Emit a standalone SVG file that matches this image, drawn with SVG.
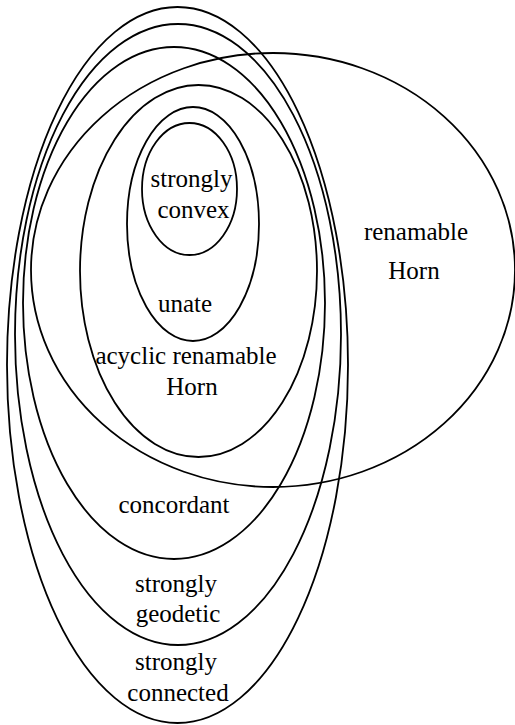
<svg xmlns="http://www.w3.org/2000/svg" width="515" height="725" viewBox="0 0 515 725">
<style>
.set{fill:none;stroke:#000;stroke-width:1.8}
.lbl{font-family:"Liberation Serif","Times New Roman",serif;font-size:25px;fill:#000;text-anchor:middle}
</style>
<rect width="515" height="725" fill="#fff"/>
<g id="connectors"></g>
<g id="strongly-connected">
<ellipse class="set" cx="177.5" cy="365" rx="170.5" ry="358"/>
<text class="lbl" x="176" y="670">strongly</text>
<text class="lbl" x="178" y="701">connected</text>
</g>
<g id="strongly-geodetic">
<ellipse class="set" cx="178" cy="334.5" rx="163" ry="310.5"/>
<text class="lbl" x="176" y="592">strongly</text>
<text class="lbl" x="178" y="622">geodetic</text>
</g>
<g id="concordant">
<ellipse class="set" cx="174" cy="303" rx="151" ry="256"/>
<text class="lbl" x="174" y="513">concordant</text>
</g>
<g id="renamable-horn">
<ellipse class="set" cx="273" cy="270" rx="242" ry="217"/>
<text class="lbl" x="416" y="240">renamable</text>
<text class="lbl" x="414" y="279">Horn</text>
</g>
<g id="acyclic-renamable-horn">
<ellipse class="set" cx="198.5" cy="271" rx="118.5" ry="186"/>
<text class="lbl" x="186" y="364">acyclic renamable</text>
<text class="lbl" x="192" y="395">Horn</text>
</g>
<g id="unate">
<ellipse class="set" cx="193" cy="224" rx="66" ry="117"/>
<text class="lbl" x="185" y="312">unate</text>
</g>
<g id="strongly-convex">
<ellipse class="set" cx="189.5" cy="189" rx="47.5" ry="66"/>
<text class="lbl" x="191.5" y="187">strongly</text>
<text class="lbl" x="193.5" y="218">convex</text>
</g>
</svg>
